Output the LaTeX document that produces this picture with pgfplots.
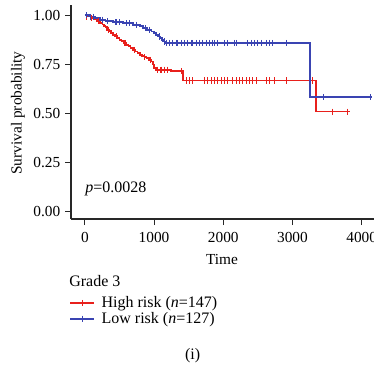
\documentclass[border=0pt]{standalone}
\usepackage{fontspec}
\setmainfont{Liberation Serif}
\usepackage{pgfplots}
\pgfplotsset{compat=1.18}
\definecolor{kmred}{RGB}{232,32,28}
\definecolor{kmblue}{RGB}{58,68,178}
\definecolor{axgray}{RGB}{40,40,40}
\newcommand{\fs}{\fontsize{11.5}{13.5}\selectfont}
\newcommand{\fl}{\fontsize{12}{14}\selectfont}
\begin{document}
\begin{tikzpicture}
\useasboundingbox (0,0) rectangle (280.5pt,279pt);
\begin{axis}[
  at={(53.25pt,114.75pt)}, anchor=south west,
  scale only axis, width=228.4pt, height=160.2pt,
  xmin=-200, xmax=4200, ymin=-0.04, ymax=1.05,
  axis lines=left, axis line style={-, axgray, line width=0.8pt},
  tick align=outside, major tick length=4.5pt,
  tick style={axgray, line width=0.8pt},
  xtick={0,1000,2000,3000,4000},
  ytick={0,0.25,0.5,0.75,1},
  ticklabel style={font=\fs},
  /pgf/number format/assume math mode=true,
  xticklabel style={yshift=-2pt, /pgf/number format/.cd, set thousands separator={}},
  yticklabel style={/pgf/number format/.cd, fixed, fixed zerofill, precision=2},
  clip=false,
  legend style={at={(axis description cs:-0.0056,-0.430)}, anchor=west,
    draw=none, fill=none, font=\fl, row sep=-2pt, inner sep=0pt},
  legend cell align=left,
  legend image code/.code={
    \draw[#1, mark=none] (0cm,0cm) -- (0.62cm,0cm);
    \draw[#1] plot coordinates {(0.31cm,0cm)};
  },
]
\addlegendimage{draw=kmred, color=kmred, line width=1.4pt, mark=|, mark size=2.3pt, mark options={line width=0.7pt}}
\addlegendentry{\hspace{3pt}High risk (\textit{n}=147)}
\addlegendimage{draw=kmblue, color=kmblue, line width=1.4pt, mark=|, mark size=2.3pt, mark options={line width=0.7pt}}
\addlegendentry{\hspace{3pt}Low risk (\textit{n}=127)}
% High risk curve
\addplot[kmred, line width=1.3pt, const plot, forget plot] coordinates {
(0,1.0) (40,0.993) (90,0.986) (140,0.979) (180,0.972) (220,0.959) (255,0.952)
(280,0.945) (300,0.938) (320,0.926) (350,0.919) (380,0.910) (410,0.900)
(440,0.893) (470,0.884) (500,0.874) (530,0.867) (560,0.858) (600,0.849)
(630,0.841) (660,0.832) (700,0.823) (730,0.815) (760,0.806) (795,0.798)
(830,0.792) (860,0.786) (891,0.781) (930,0.772) (963,0.764) (980,0.748)
(995,0.730) (1030,0.722) (1240,0.714) (1420,0.667) (3345,0.508) (3830,0.508)
};
% Low risk curve
\addplot[kmblue, line width=1.3pt, const plot, forget plot] coordinates {
(0,1.0) (60,0.993) (150,0.985) (217,0.977) (300,0.970) (409,0.964) (550,0.959)
(700,0.951) (800,0.943) (843,0.934) (900,0.926) (963,0.917) (1000,0.908)
(1030,0.899) (1060,0.891) (1090,0.882) (1110,0.874) (1132,0.866) (1160,0.859)
(3250,0.583) (4150,0.583)
};
% censor marks high risk
\addplot[kmred, only marks, mark=|, mark size=2.3pt, mark options={line width=0.8pt}, forget plot] coordinates {
(30,0.993) (100,0.986) (200,0.972) (340,0.926) (460,0.893) (580,0.858) (720,0.823)
(860,0.786) (950,0.772) (1050,0.722) (1100,0.722) (1150,0.722) (1200,0.722) (1397,0.714)
(1474,0.667) (1517,0.667) (1561,0.667) (1734,0.667) (1777,0.667) (1835,0.667)
(1879,0.667) (1922,0.667) (1980,0.667) (2023,0.667) (2066,0.667) (2139,0.667)
(2197,0.667) (2240,0.667) (2283,0.667) (2341,0.667) (2384,0.667) (2428,0.667)
(2486,0.667) (2630,0.667) (2673,0.667) (2746,0.667) (2919,0.667) (3290,0.667)
(3579,0.508) (3796,0.508)
};
% censor marks low risk
\addplot[kmblue, only marks, mark=|, mark size=2.3pt, mark options={line width=0.8pt}, forget plot] coordinates {
(20,1.0) (80,0.993) (120,0.993) (250,0.977) (330,0.970) (450,0.964) (500,0.964)
(600,0.959) (650,0.959) (750,0.951) (870,0.934) (930,0.926) (1080,0.891) (1150,0.866)
(1185,0.859) (1228,0.859) (1272,0.859) (1329,0.859) (1344,0.859) (1402,0.859)
(1445,0.859) (1488,0.859) (1546,0.859) (1561,0.859) (1618,0.859) (1662,0.859)
(1705,0.859) (1763,0.859) (1806,0.859) (1850,0.859) (1879,0.859) (1922,0.859)
(2023,0.859) (2066,0.859) (2168,0.859) (2197,0.859) (2355,0.859) (2413,0.859)
(2457,0.859) (2500,0.859) (2558,0.859) (2630,0.859) (2673,0.859) (2717,0.859)
(2919,0.859) (3444,0.583) (4128,0.583)
};
\node[anchor=west, font=\fl, inner sep=0pt] at (axis cs:5,0.116) {\textit{p}=0.0028};
\end{axis}
\node[rotate=90, font=\fs] at (13.5pt,194.25pt) {Survival probability};
\node[font=\fs] at (166.5pt,84.75pt) {Time};
\node[anchor=west, font=\fl, inner sep=0pt] at (51.75pt,68.25pt) {Grade 3};
\node[font=\fl] at (144.5pt,12pt) {(i)};
\end{tikzpicture}
\end{document}
